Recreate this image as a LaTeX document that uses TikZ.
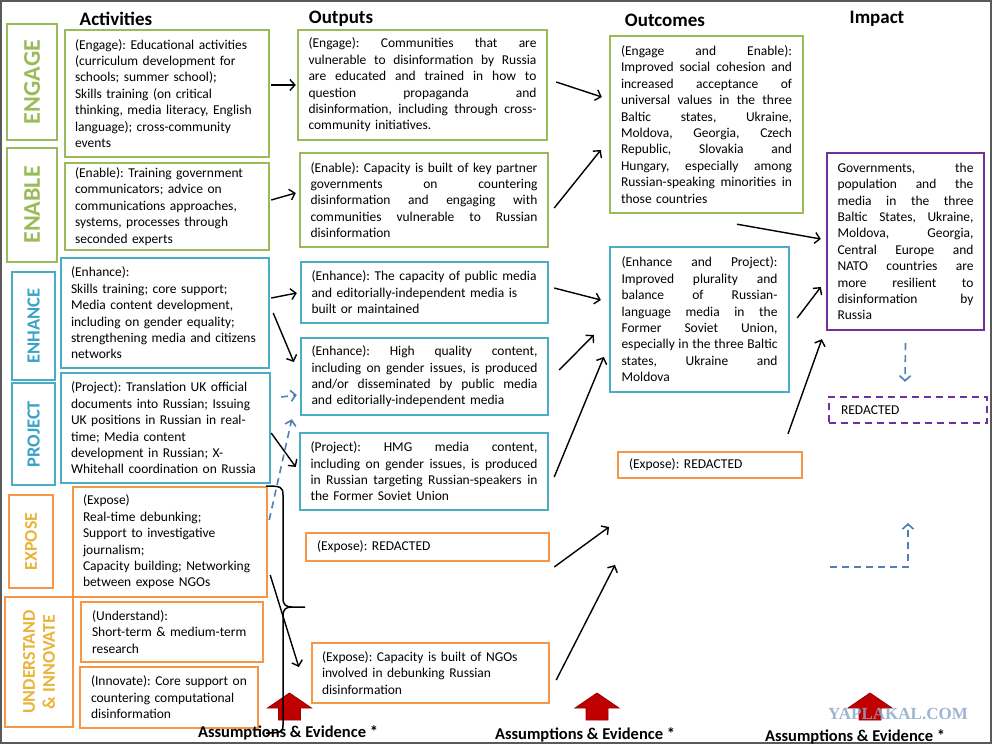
\documentclass[tikz,border=0pt]{standalone}
\usepackage{fontspec}
\setmainfont{Carlito}
\newfontfamily\wmfont{Liberation Serif}
\usetikzlibrary{arrows.meta,calc}
\definecolor{cgreen}{HTML}{9BBB59}
\definecolor{cblue}{HTML}{4BACC6}
\definecolor{cbluetxt}{HTML}{38A3C8}
\definecolor{corange}{HTML}{F79646}
\definecolor{cgold}{HTML}{E9B43B}
\definecolor{cpurple}{HTML}{7030A0}
\definecolor{cdash}{HTML}{4F7FB8}
\definecolor{cred}{HTML}{C00000}
\definecolor{cwm}{HTML}{8FA7C9}
\frenchspacing
\newlength\mytw
\newcommand\bodyfont{\fontsize{13.5}{16.4}\selectfont}
\newcommand\jl[1]{\hbox to \mytw{\spaceskip=\fontdimen2\font plus 1fil\relax #1}\par}
\newcommand\rl[1]{\hbox to \mytw{#1\hss}\par}
\begin{document}
\begin{tikzpicture}[x=1pt,y=-1pt]
\tikzset{
 tw/.style={text width=#1, execute at begin node={\setlength{\mytw}{#1}\parindent=0pt}},
 bx/.style={draw, line width=2.4pt, inner sep=0pt, font=\bodyfont, align=left},
 gbx/.style={bx, draw=cgreen},
 bbx/.style={bx, draw=cblue},
 obx/.style={bx, draw=corange},
 pbx/.style={bx, draw=cpurple},
 lab/.style={draw, line width=2.8pt, inner sep=0pt, rotate=90, align=center},
 hdr/.style={font=\fontsize{19}{22}\selectfont\bfseries, inner sep=0pt},
 arr/.style={line width=1.4pt, -{Straight Barb[length=5pt,width=11pt]}},
 darr/.style={line width=1.6pt, draw=cdash, dash pattern=on 7pt off 5pt, -{Straight Barb[length=5pt,width=11pt]}},
 ae/.style={font=\fontsize{16.5}{18}\selectfont\bfseries, inner sep=0pt},
 redarr/.style={fill=cred, draw=cred!80!black, line width=0.8pt},
 uparrow/.pic={\path[redarr] (0,0) -- (22,15) -- (11,15) -- (11,27) -- (-11,27) -- (-11,15) -- (-22,15) -- cycle;}
}
\useasboundingbox (0,0) rectangle (992,744);
\fill[white] (0,0) rectangle (992,744);
\draw[line width=2pt, draw=black!65] (1,1) rectangle (991,743);

% headers
\node[hdr] (H1) at (116,18.5) {Activities};
\node[hdr] (H2) at (341,18.5) {Outputs};
\node[hdr] (H3) at (665,20.5) {Outcomes};
\node[hdr] (H4) at (877,18.5) {Impact};

% side labels
\node[lab, draw=cgreen, text=cgreen, minimum width=116pt, minimum height=50pt, font=\fontsize{24}{26}\selectfont\bfseries] (L1) at (32,82) {ENGAGE};
\node[lab, draw=cgreen, text=cgreen, minimum width=114pt, minimum height=50pt, font=\fontsize{24}{26}\selectfont\bfseries] (L2) at (32,205) {ENABLE};
\node[lab, draw=cblue, text=cbluetxt, minimum width=108pt, minimum height=43pt, font=\fontsize{18.5}{20}\selectfont\bfseries] (L3) at (33.5,326) {ENHANCE};
\node[lab, draw=cblue, text=cbluetxt, minimum width=102pt, minimum height=43pt, font=\fontsize{18.5}{20}\selectfont\bfseries] (L4) at (33.5,434) {PROJECT};
\node[lab, draw=corange, text=cgold, minimum width=93pt, minimum height=44pt, font=\fontsize{18}{20}\selectfont\bfseries] (L5) at (31,541.5) {EXPOSE};
\node[lab, draw=corange, text=cgold, minimum width=130pt, minimum height=68pt, font=\fontsize{18}{20}\selectfont\bfseries] (L6) at (39,662) {UNDERSTAND\\\& INNOVATE};

% activities
\node[gbx, minimum width=204pt, minimum height=127pt, tw=184pt] (A1) at (167,93.5) {\rl{(Engage): Educational activities}\rl{(curriculum development for}\rl{schools; summer school);}\rl{Skills training (on critical}\rl{thinking, media literacy, English}\rl{language); cross-community}\rl{events}};
\node[gbx, minimum width=204pt, minimum height=87pt, tw=184pt] (A2) at (167,206.5) {\rl{(Enable): Training government}\rl{communicators; advice on}\rl{communications approaches,}\rl{systems, processes through}\rl{seconded experts}};
\node[bbx, minimum width=208pt, minimum height=110pt, tw=188pt] (A3) at (165,313) {\rl{(Enhance):}\rl{Skills training; core support;}\rl{Media content development,}\rl{including on gender equality;}\rl{strengthening media and citizens}\rl{networks}};
\node[bbx, minimum width=209pt, minimum height=110pt, tw=189pt] (A4) at (165.5,428) {\rl{(Project): Translation UK official}\rl{documents into Russian; Issuing}\rl{UK positions in Russian in real-}\rl{time; Media content}\rl{development in Russian; X-}\rl{Whitehall coordination on Russia}};
\node[obx, minimum width=194pt, minimum height=110pt, tw=174pt] (A5) at (170,542) {\rl{(Expose)}\rl{Real-time debunking;}\rl{Support to investigative}\rl{journalism;}\rl{Capacity building; Networking}\rl{between expose NGOs}};
\node[obx, minimum width=182pt, minimum height=60pt, tw=160pt] (A6) at (172,632) {\rl{(Understand):}\rl{Short-term \& medium-term}\rl{research}};
\node[obx, minimum width=178pt, minimum height=61pt, tw=156pt] (A7) at (169,697.5) {\rl{(Innovate): Core support on}\rl{countering computational}\rl{disinformation}};

% outputs
\node[gbx, minimum width=249pt, minimum height=110pt, tw=228pt] (O1) at (422.5,85) {\jl{(Engage): Communities that are}\jl{vulnerable to disinformation by Russia}\jl{are educated and trained in how to}\jl{question propaganda and}\jl{disinformation, including through cross-}\rl{community initiatives.}};
\node[gbx, minimum width=248pt, minimum height=94pt, tw=227pt] (O2) at (424,200) {\jl{(Enable): Capacity is built of key partner}\jl{governments on countering}\jl{disinformation and engaging with}\jl{communities vulnerable to Russian}\rl{disinformation}};
\node[bbx, minimum width=247pt, minimum height=61pt, tw=226pt] (O3) at (424.5,292.5) {\rl{(Enhance): The capacity of public media}\rl{and editorially-independent media is}\rl{built or maintained}};
\node[bbx, minimum width=247pt, minimum height=77pt, tw=226pt] (O4) at (424.5,376.5) {\jl{(Enhance): High quality content,}\jl{including on gender issues, is produced}\jl{and/or disseminated by public media}\rl{and editorially-independent media}};
\node[bbx, minimum width=248pt, minimum height=77pt, tw=227pt] (O5) at (424,471.5) {\jl{(Project): HMG media content,}\jl{including on gender issues, is produced}\jl{in Russian targeting Russian-speakers in}\rl{the Former Soviet Union}};
\node[obx, minimum width=243pt, minimum height=28pt, tw=221pt] (O6) at (427.5,547) {\rl{(Expose): REDACTED}};
\node[obx, minimum width=237pt, minimum height=60pt, tw=217pt] (O7) at (430.5,673) {\rl{(Expose): Capacity is built of NGOs}\rl{involved in debunking Russian}\rl{disinformation}};

% outcomes
\node[gbx, minimum width=193pt, minimum height=177pt, tw=171pt] (C1) at (706.5,124.5) {\jl{(Engage and Enable):}\jl{Improved social cohesion and}\jl{increased acceptance of}\jl{universal values in the three}\jl{Baltic states, Ukraine,}\jl{Moldova, Georgia, Czech}\jl{Republic, Slovakia and}\jl{Hungary, especially among}\jl{Russian-speaking minorities in}\rl{those countries}};
\node[bbx, minimum width=179pt, minimum height=145pt, tw=156pt] (C2) at (699.5,319.5) {\jl{(Enhance and Project):}\jl{Improved plurality and}\jl{balance of Russian-}\jl{language media in the}\jl{Former Soviet Union,}\jl{especially in the three Baltic}\jl{states, Ukraine and}\rl{Moldova}};
\node[obx, minimum width=184pt, minimum height=26pt, tw=162pt] (C3) at (710,465) {\rl{(Expose): REDACTED}};

% impact
\node[pbx, minimum width=157pt, minimum height=177pt, tw=136pt] (I1) at (905.5,241.5) {\jl{Governments, the}\jl{population and the}\jl{media in the three}\jl{Baltic States, Ukraine,}\jl{Moldova, Georgia,}\jl{Central Europe and}\jl{NATO countries are}\jl{more resilient to}\jl{disinformation by}\rl{Russia}};
\node[pbx, dash pattern=on 7pt off 5pt, minimum width=158pt, minimum height=26pt, tw=134pt] (I2) at (908,410) {\rl{REDACTED}};

% free ends
\coordinate (F1) at (609,527);
\coordinate (F2) at (615,565);
\coordinate (DL1) at (830,567);
\coordinate (DL2) at (908,567);
\coordinate (DL3) at (908,523);

% red arrows
\pic at (289.5,693) {uparrow};
\pic at (597,693) {uparrow};
\pic at (870,693) {uparrow};

% brace
\draw[line width=1.5pt] (266,486) .. controls (281,486) and (283,487) .. (283,495) -- (283,598) .. controls (283,605) and (286,607) .. (292,607) -- (305,607);
\draw[line width=1.5pt] (292,607) .. controls (286,607) and (283,609) .. (283,616) -- (283,725) .. controls (283,732) and (281,733) .. (266,733);

% connectors
\draw[arr] ($(A1.east)+(1,-8.5)$) -- ($(O1.west)+(-1,0)$);
\draw[arr] ($(A2.east)+(1,-6.5)$) -- ($(O2.west)+(-3,-7)$);
\draw[arr] ($(O1.east)+(8,-3)$) -- ($(C1.west)+(-7,-27.5)$);
\draw[arr] ($(O2.east)+(5,8)$) -- ($(C1.west)+(-8,25.5)$);
\draw[arr] ($(A3.east)+(1,-15)$) -- ($(O3.west)+(-3,0.5)$);
\draw[arr] ($(A3.east)+(3,0)$) -- ($(O4.west)+(-6,-14.5)$);
\draw[darr] ($(A4.east)+(10,-31)$) -- ($(O4.west)+(-3,18.5)$);
\draw[arr] ($(A4.east)+(0,5)$) -- ($(O5.west)+(-3,-4.5)$);
\draw[darr] ($(A5.east)+(1,-22)$) -- ($(O4.south west)+(-8,3)$);
\draw[arr] ($(A5.east)+(2,33)$) -- ($(O7.west)+(-12,-6)$);
\draw[arr] ($(O3.east)+(5,-4.5)$) -- ($(C2.west)+(-8,-19.5)$);
\draw[arr] ($(O4.east)+(10,-6.5)$) -- ($(C2.west)+(-15,15.5)$);
\draw[arr] ($(O5.east)+(5,5.5)$) -- ($(C2.west)+(-5,37.5)$);
\draw[arr] ($(O6.east)+(4,20)$) -- (F1);
\draw[arr] ($(O7.east)+(6,7)$) -- (F2);
\draw[arr] ($(C1.south)+(30.5,10)$) -- ($(I1.west)+(-5,-2.5)$);
\draw[arr] ($(C2.east)+(7,-1.5)$) -- ($(I1.west)+(-5,45.5)$);
\draw[arr] ($(C3.north)+(78,-17)$) -- ($(I1.south west)+(-4,8)$);
\draw[darr] ($(I1.south)+(0,12)$) -- ($(I2.north)+(-3,-14)$);
\draw[darr] (DL1) -- (DL2) -- (DL3);

% bottom labels
\node[ae] (AE1) at (288,733) {Assumptions \& Evidence *};
\node[ae] (AE2) at (585,735) {Assumptions \& Evidence *};
\node[ae] (AE3) at (855,737) {Assumptions \& Evidence *};
\node[font=\wmfont\bfseries\fontsize{17}{18}\selectfont, text=cwm, opacity=0.85, inner sep=0pt] (WM) at (898,714) {YAPLAKAL.COM};
\end{tikzpicture}
\end{document}
